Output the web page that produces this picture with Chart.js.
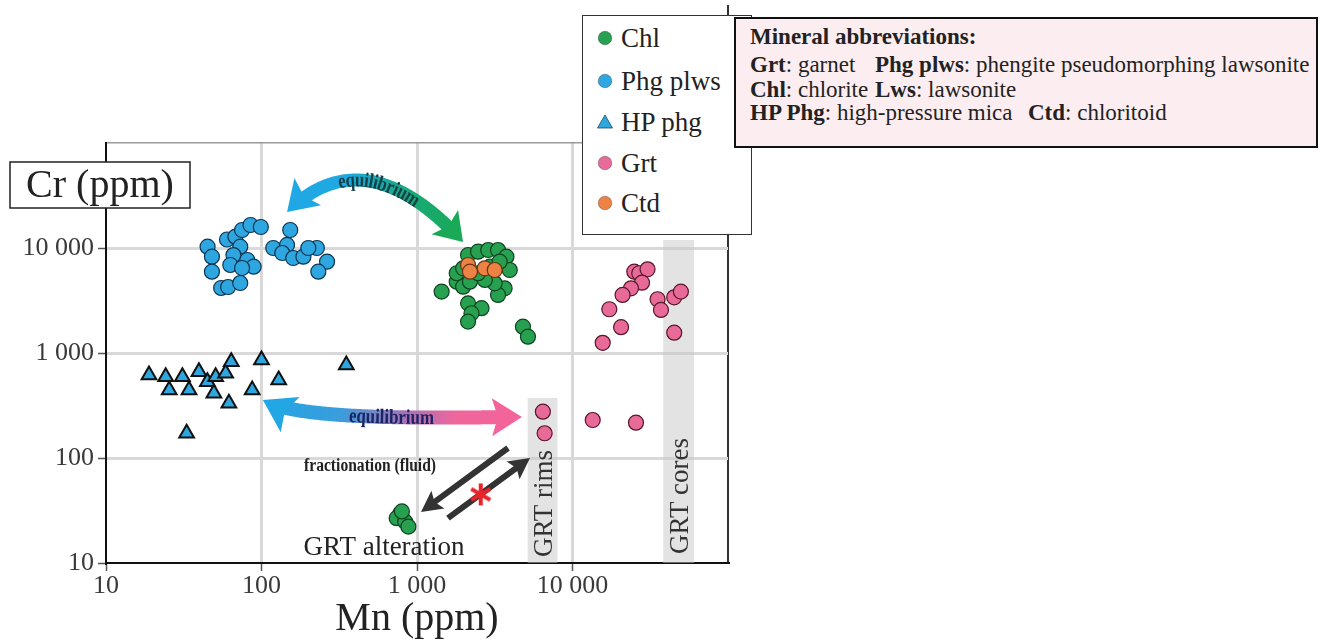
<!DOCTYPE html>
<html>
<head>
<meta charset="utf-8">
<script src="https://cdn.jsdelivr.net/npm/chart.js@4.4.1/dist/chart.umd.min.js"></script>
<style>
  body { margin: 0; background: #fff; }
  #wrap { position: relative; width: 1320px; height: 641px; overflow: hidden; }
  #chart { position: absolute; left: 0; top: 0; }
  #legend {
    position: absolute; left: 582px; top: 15px; width: 170px; height: 220px; box-sizing: border-box;
    border: 1.5px solid #333; background: #fff;
    font-family: 'Liberation Serif', serif; font-size: 27px; color: #222;
  }
  #legend .item { position: absolute; left: 14px; height: 30px; display: flex; align-items: center; white-space: nowrap; }
  #legend svg { margin-right: 8px; }
  #abbr {
    position: absolute; left: 734px; top: 17px; width: 584px; height: 131px; box-sizing: border-box;
    border: 2px solid #111; background: #fcedf0;
    font-family: 'Liberation Serif', serif; font-size: 23px; color: #222;
  }
  #abbr div { position: absolute; line-height: 24px; white-space: nowrap; }
</style>
</head>
<body>
<div id="wrap">
  <canvas id="chart" width="1320" height="641"></canvas>
  <div id="legend"></div>
  <div id="abbr">
    <div style="left:14px; top:6px;"><b>Mineral abbreviations:</b></div>
    <div style="left:14px; top:34px;"><b>Grt</b>: garnet</div>
    <div style="left:139px; top:34px;"><b>Phg plws</b>: phengite pseudomorphing lawsonite</div>
    <div style="left:14px; top:59px;"><b>Chl</b>: chlorite</div>
    <div style="left:139px; top:59px;"><b>Lws</b>: lawsonite</div>
    <div style="left:14px; top:82px;"><b>HP Phg</b>: high-pressure mica</div>
    <div style="left:292px; top:82px;"><b>Ctd</b>: chloritoid</div>
  </div>
</div>
<script>
// Mn (ppm) / Cr (ppm)
const chlMn = [1440, 1800, 1980, 2190, 2130, 2470, 2870, 3320, 3760, 3950, 3660, 3320, 3160, 2730, 2470,
  1800, 1980, 2130, 2600, 2240, 2130, 4800, 5170, 2940, 3400, 780, 740, 840, 880, 800];
const chlCr = [3840, 4780, 4280, 4780, 8580, 9230, 9570, 9570, 8260, 6170, 4130, 3570, 4610, 4960, 5750,
  5750, 6410, 2970, 2670, 2390, 1990, 1780, 1430, 6640, 7410, 29.7, 26.7, 24.7, 22.2, 31];

const phgMn = [45, 48, 48, 55, 61, 73, 60, 68, 75, 85, 99, 73, 66, 63, 81, 89, 75,
  119, 153, 146, 136, 160, 186, 227, 200, 264, 232];
const phgCr = [10290, 8260, 5950, 4160, 4250, 4640, 12050, 12820, 14840, 16560, 15850, 10290, 8570, 6890, 7690, 6640, 6450,
  10000, 14840, 10690, 8960, 8030, 8260, 10000, 10000, 7410, 5950];

const hpMn = [18.9, 24.2, 25.5, 31, 34.2, 39.6, 44.9, 49.4, 50.7, 58.8, 63.9, 61.7, 87.1, 100, 129, 351, 33];
const hpCr = [617, 595, 444, 595, 444, 664, 533, 413, 595, 641, 826, 332, 444, 858, 553, 769, 172];

const grtMn = [24970, 26860, 30380, 27990, 23780, 20990, 17250, 20530, 15640, 35230, 37050, 45100, 49770, 45100,
  13490, 25600, 6450, 6620];
const grtCr = [5950, 5750, 6270, 4670, 4130, 3570, 2610, 1760, 1250, 3250, 2570, 3390, 3840, 1560,
  230, 217, 276, 172];

const ctdMn = [2130, 2190, 2730, 3160];
const ctdCr = [6890, 5950, 6410, 6170];

const starMn = [2570];
const starCr = [45];

const tickValues = [10, 100, 1000, 10000, 100000];

// grey bands (Mn range, top Cr) for garnet rims / cores
const bands = [
  { from: 5150, to: 8000, top: 373 },
  { from: 38300, to: 60500, top: 11900 }
];

// arrows in data space: [Mn, Cr] control points
const eqTop = [[146, 22030], [315, 67400], [755, 54100], [1977, 11400]];
const eqBottom = [[102, 356], [177, 230], [1045, 240], [4730, 246]];
const fracDown = [[3850, 124.5], [1061, 30.6]];
const fracUp = [[1582, 26.8], [5330, 100]];

const toXY = (a, b) => a.map((v, i) => ({ x: v, y: b[i] }));
const SERIF = "'Liberation Serif', 'Times New Roman', serif";

function fmt(v) {
  if (v >= 100000) return '';
  return v.toLocaleString('en-US').replace(/,/g, ' ');
}

function sampleCubic(p, n) {
  const out = [];
  for (let i = 0; i <= n; i++) {
    const t = i / n, u = 1 - t;
    out.push([
      u * u * u * p[0][0] + 3 * u * u * t * p[1][0] + 3 * u * t * t * p[2][0] + t * t * t * p[3][0],
      u * u * u * p[0][1] + 3 * u * u * t * p[1][1] + 3 * u * t * t * p[2][1] + t * t * t * p[3][1]
    ]);
  }
  return out;
}

function cumLen(s) {
  const L = [0];
  for (let i = 1; i < s.length; i++) L.push(L[i - 1] + Math.hypot(s[i][0] - s[i - 1][0], s[i][1] - s[i - 1][1]));
  return L;
}

function pointAt(s, L, d) {
  let i = 1;
  while (i < L.length - 1 && L[i] < d) i++;
  const seg = L[i] - L[i - 1] || 1;
  const f = (d - L[i - 1]) / seg;
  return {
    x: s[i - 1][0] + (s[i][0] - s[i - 1][0]) * f,
    y: s[i - 1][1] + (s[i][1] - s[i - 1][1]) * f,
    a: Math.atan2(s[i][1] - s[i - 1][1], s[i][0] - s[i - 1][0])
  };
}

function arrowHead(ctx, tip, from, len, hw, color) {
  let dx = tip[0] - from[0], dy = tip[1] - from[1];
  const n = Math.hypot(dx, dy);
  dx /= n; dy /= n;
  const bx = tip[0] - dx * len, by = tip[1] - dy * len;
  ctx.fillStyle = color;
  ctx.beginPath();
  ctx.moveTo(tip[0], tip[1]);
  ctx.lineTo(bx - dy * hw, by + dx * hw);
  ctx.lineTo(bx + dx * len * 0.2, by + dy * len * 0.2);
  ctx.lineTo(bx + dy * hw, by - dx * hw);
  ctx.closePath();
  ctx.fill();
}

function curvedArrow(ctx, p, o) {
  const s = sampleCubic(p, 150), L = cumLen(s), total = L[L.length - 1];
  const g = ctx.createLinearGradient(p[0][0], p[0][1], p[3][0], p[3][1]);
  o.stops.forEach(st => g.addColorStop(st[0], st[1]));
  ctx.strokeStyle = g;
  ctx.lineWidth = o.width;
  ctx.lineJoin = 'round';
  ctx.beginPath();
  let first = true;
  s.forEach((q, i) => {
    if (L[i] < o.head0[0] * 0.7 || L[i] > total - o.head1[0] * 0.7) return;
    if (first) { ctx.moveTo(q[0], q[1]); first = false; } else ctx.lineTo(q[0], q[1]);
  });
  ctx.stroke();
  arrowHead(ctx, p[0], p[1], o.head0[0], o.head0[1], o.c0);
  arrowHead(ctx, p[3], p[2], o.head1[0], o.head1[1], o.c1);
  // label along the shaft, slightly condensed like the original
  const squeeze = 0.8;
  ctx.font = 'bold 21px ' + SERIF;
  ctx.fillStyle = o.textColor;
  ctx.textAlign = 'center';
  ctx.textBaseline = 'middle';
  const w = ctx.measureText(o.text).width * squeeze;
  let d = total / 2 - w / 2;
  for (const ch of o.text) {
    const cw = ctx.measureText(ch).width * squeeze;
    const q = pointAt(s, L, d + cw / 2);
    ctx.save();
    ctx.translate(q.x, q.y);
    ctx.rotate(q.a);
    ctx.scale(squeeze, 1);
    ctx.fillText(ch, 0, 1);
    ctx.restore();
    d += cw;
  }
}

function straightArrow(ctx, a, b, color) {
  let dx = b[0] - a[0], dy = b[1] - a[1];
  const n = Math.hypot(dx, dy);
  ctx.strokeStyle = color;
  ctx.lineWidth = 6;
  ctx.beginPath();
  ctx.moveTo(a[0], a[1]);
  ctx.lineTo(b[0] - dx / n * 14, b[1] - dy / n * 14);
  ctx.stroke();
  arrowHead(ctx, b, a, 21, 11, color);
}

// six-armed red asterisk used as the point style of the marker
function asterisk(color) {
  const c = document.createElement('canvas');
  c.width = 24; c.height = 24;
  const g = c.getContext('2d');
  g.strokeStyle = color;
  g.lineWidth = 4;
  g.lineCap = 'butt';
  for (let k = 0; k < 3; k++) {
    const a = Math.PI / 2 + k * Math.PI / 3;
    g.beginPath();
    g.moveTo(12 + Math.cos(a) * 11, 12 + Math.sin(a) * 11);
    g.lineTo(12 - Math.cos(a) * 11, 12 - Math.sin(a) * 11);
    g.stroke();
  }
  return c;
}

const annotations = {
  id: 'annotations',
  beforeDatasetsDraw(chart) {
    const { ctx, chartArea: area, scales: { x, y } } = chart;
    const P = q => [x.getPixelForValue(q[0]), y.getPixelForValue(q[1])];
    ctx.save();
    ctx.fillStyle = 'rgba(200,200,200,0.5)';
    bands.forEach(b => {
      const l = x.getPixelForValue(b.from), r = x.getPixelForValue(b.to), t = y.getPixelForValue(b.top);
      ctx.fillRect(l, t, r - l, area.bottom - t);
    });
    curvedArrow(ctx, eqTop.map(P), {
      width: 13, head0: [29, 19], head1: [27, 18], c0: '#1fa8e4', c1: '#1aa957',
      stops: [[0, '#1fa8e4'], [0.3, '#1fa8e0'], [0.65, '#17aa78'], [1, '#1aa957']],
      text: 'equilibrium', textColor: '#15404a'
    });
    curvedArrow(ctx, eqBottom.map(P), {
      width: 14, head0: [31, 20], head1: [30, 19], c0: '#23a6e4', c1: '#f2649a',
      stops: [[0, '#23a6e4'], [0.3, '#3a9ddc'], [0.55, '#a872b4'], [0.75, '#f0669b'], [1, '#f2649a']],
      text: 'equilibrium', textColor: '#1b2463'
    });
    straightArrow(ctx, P(fracDown[0]), P(fracDown[1]), '#333');
    straightArrow(ctx, P(fracUp[0]), P(fracUp[1]), '#333');
    ctx.restore();
  },
  afterDatasetsDraw(chart) {
    const { ctx, scales: { x, y } } = chart;
    ctx.save();
    ctx.textAlign = 'center';
    ctx.textBaseline = 'middle';
    ctx.fillStyle = '#222';
    ctx.font = 'bold 18px ' + SERIF;
    ctx.fillText('fractionation (fluid)', x.getPixelForValue(499), y.getPixelForValue(83.8), 132);
    ctx.font = '27px ' + SERIF;
    ctx.fillText('GRT alteration', x.getPixelForValue(614), y.getPixelForValue(13.9));
    [['GRT rims', 6650, 36.9], ['GRT cores', 49900, 43.5]].forEach(t => {
      ctx.save();
      ctx.translate(x.getPixelForValue(t[1]), y.getPixelForValue(t[2]));
      ctx.rotate(-Math.PI / 2);
      ctx.fillStyle = '#333';
      ctx.fillText(t[0], 0, 0);
      ctx.restore();
    });
    ctx.restore();
  },
  afterDraw(chart) {
    const { ctx, chartArea: area } = chart;
    ctx.save();
    // right frame line continues up behind the legend
    ctx.strokeStyle = '#333';
    ctx.lineWidth = 2;
    ctx.beginPath();
    ctx.moveTo(area.right, 5);
    ctx.lineTo(area.right, area.top);
    ctx.stroke();
    // boxed y-axis title
    ctx.fillStyle = '#fff';
    ctx.fillRect(10, 162, 180, 46);
    ctx.strokeStyle = '#222';
    ctx.lineWidth = 1.5;
    ctx.strokeRect(10, 162, 180, 46);
    ctx.fillStyle = '#222';
    ctx.font = '40px ' + SERIF;
    ctx.textAlign = 'center';
    ctx.textBaseline = 'alphabetic';
    ctx.fillText('Cr (ppm)', 100, 197);
    ctx.restore();
  }
};

const pointBase = { showLine: false, radius: 7.5, borderWidth: 1.2, hoverRadius: 7.5 };

const datasets = [
  { ...pointBase, label: 'Chl', data: toXY(chlMn, chlCr), backgroundColor: '#27a04f', borderColor: '#0f4321', pointStyle: 'circle', order: 4 },
  { ...pointBase, label: 'Phg plws', data: toXY(phgMn, phgCr), backgroundColor: '#2ea6df', borderColor: '#0c3553', pointStyle: 'circle', order: 2 },
  { ...pointBase, label: 'HP phg', data: toXY(hpMn, hpCr), backgroundColor: '#2ea6df', borderColor: '#111', pointStyle: 'triangle', radius: 8.5, borderWidth: 2, order: 2 },
  { ...pointBase, label: 'Grt', data: toXY(grtMn, grtCr), backgroundColor: '#e86a98', borderColor: '#571629', pointStyle: 'circle', order: 2 },
  { ...pointBase, label: 'Ctd', data: toXY(ctdMn, ctdCr), backgroundColor: '#ec8344', borderColor: '#6b3413', pointStyle: 'circle', order: 3 },
  { ...pointBase, label: '', data: toXY(starMn, starCr), backgroundColor: '#e8242b', borderColor: '#e8242b', pointStyle: asterisk('#e8242b'), order: 0, legend: false }
];

function logAxis(isX) {
  return {
    type: 'logarithmic',
    min: 10,
    max: 100000,
    afterBuildTicks: s => { s.ticks = tickValues.map(v => ({ value: v })); },
    afterFit: s => { if (isX) s.height = 78; else s.width = 106; },
    ticks: {
      autoSkip: false, maxRotation: 0, minRotation: 0,
      padding: isX ? 0 : 4,
      color: '#3a3a3a',
      font: { family: SERIF, size: 26 },
      callback: v => fmt(v)
    },
    grid: {
      color: c => {
        const v = c.tick && c.tick.value;
        if (v === 10) return 'rgba(0,0,0,0)';
        if (v === 100000) return isX ? '#333' : '#9a9a9a';
        return '#d9d9d9';
      },
      lineWidth: c => (c.tick && c.tick.value === 100000) ? (isX ? 2 : 1.5) : 3,
      tickColor: c => (c.tick && c.tick.value === 100000) ? 'rgba(0,0,0,0)' : '#555',
      tickLength: 8,
      tickWidth: 1.5
    },
    border: { color: '#111', width: 2 },
    title: isX ? {
      display: true, text: 'Mn (ppm)', color: '#222',
      font: { family: SERIF, size: 40, lineHeight: 1 },
      padding: { top: 0, bottom: 2 }
    } : { display: false }
  };
}

const chart = new Chart(document.getElementById('chart'), {
  type: 'scatter',
  data: { datasets },
  options: {
    responsive: false,
    animation: false,
    events: [],
    layout: { padding: { left: 0, top: 143, right: 592, bottom: 0 } },
    scales: { x: logAxis(true), y: logAxis(false) },
    plugins: { legend: { display: false }, tooltip: { enabled: false } }
  },
  plugins: [annotations]
});

// legend box built from the datasets
const legendTops = [22, 65, 106, 147, 187];
const legendEl = document.getElementById('legend');
datasets.filter(d => d.legend !== false).forEach((d, i) => {
  const item = document.createElement('div');
  item.className = 'item';
  item.style.top = (legendTops[i] - 15) + 'px';
  const shape = d.pointStyle === 'triangle'
    ? `<polygon points="8,1 15.5,14 0.5,14" fill="${d.backgroundColor}" stroke="#1b4a66" stroke-width="0.8"/>`
    : `<circle cx="8" cy="8" r="6.8" fill="${d.backgroundColor}" stroke="rgba(0,0,0,0.35)" stroke-width="0.8"/>`;
  item.innerHTML = `<svg width="16" height="16" viewBox="0 0 16 16">${shape}</svg><span>${d.label}</span>`;
  legendEl.appendChild(item);
});
</script>
</body>
</html>
